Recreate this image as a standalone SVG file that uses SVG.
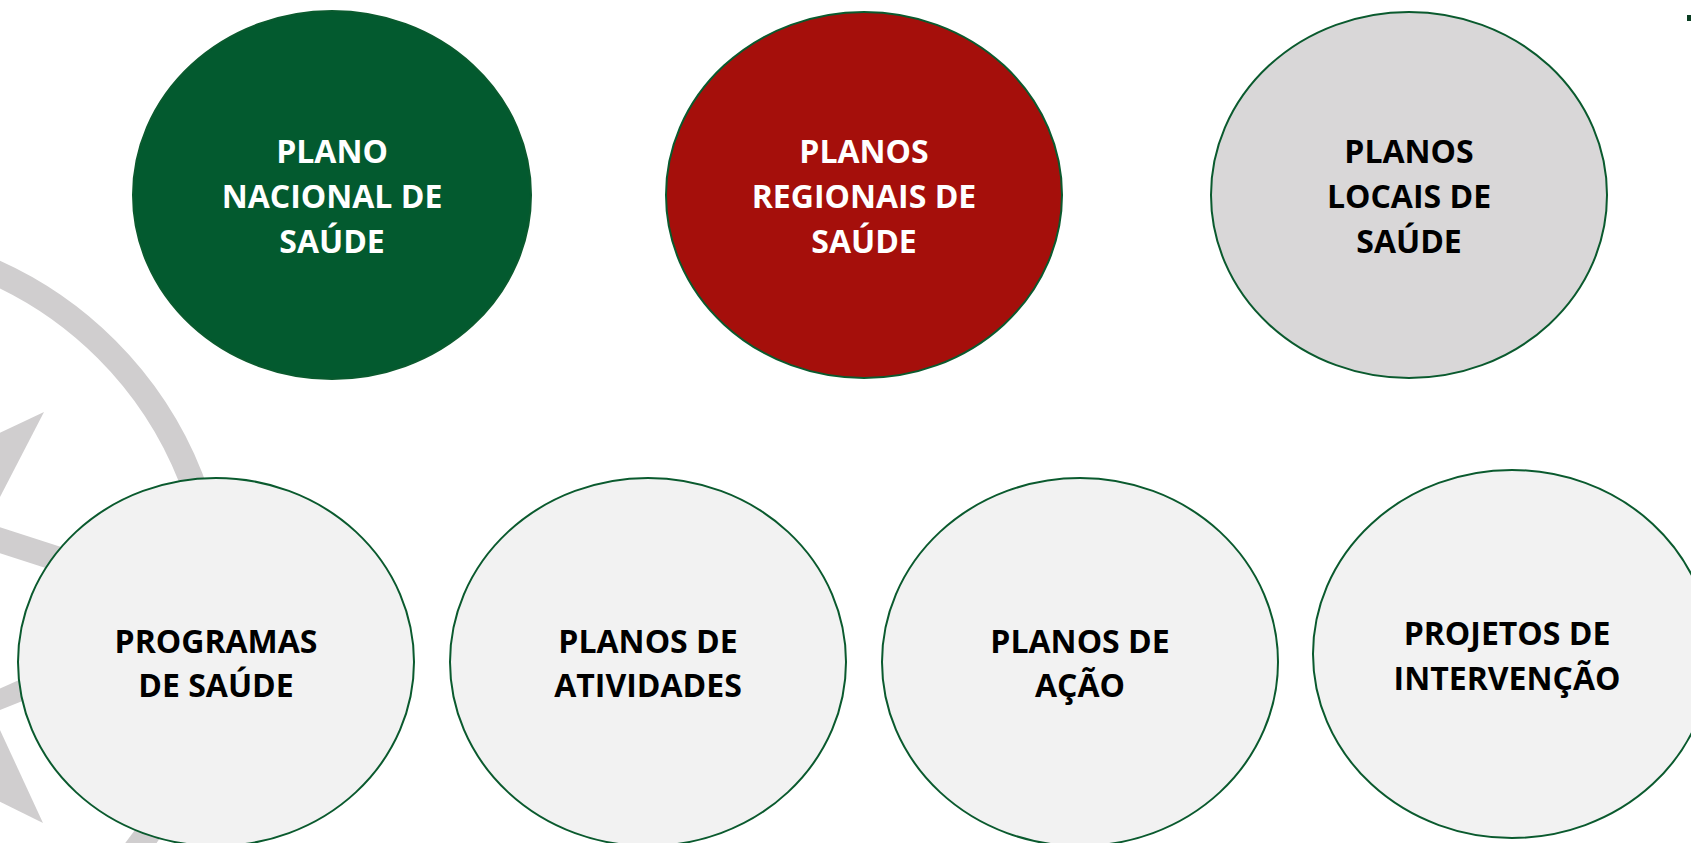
<svg xmlns="http://www.w3.org/2000/svg" width="1691" height="843" viewBox="0 0 1691 843">
<style>
.node{stroke:#0a5a2e;stroke-width:2}
.lbl{font-family:"Open Sans","Liberation Sans",sans-serif;font-weight:bold;font-size:32px;text-anchor:middle}
.w{fill:#ffffff}
.k{fill:#000000}
.deco{fill:#d0cecf}
</style>
<rect width="1691" height="843" fill="#ffffff"/>
<g id="background">
<circle cx="-160" cy="616" r="377" fill="none" stroke="#d0cecf" stroke-width="25"/>
<polygon class="deco" points="44,412 -30,447 -30,555"/>
<polygon class="deco" points="43,823 -30,665 -30,787"/>
<polygon class="deco" points="-10,524 120,566 120,592 -10,550"/>
<polygon class="deco" points="-10,693 120,635 120,662 -10,714"/>
<rect x="1687" y="15" width="4" height="6" fill="#0a3d22"/>
</g>
<g id="connectors"></g>
<g id="n1">
<ellipse class="node" cx="332" cy="195" rx="199" ry="184" fill="#035a2f" stroke="#035a2f"/>
<text class="lbl w" x="332" y="163">PLANO</text>
<text class="lbl w" x="332" y="208">NACIONAL DE</text>
<text class="lbl w" x="332" y="253">SAÚDE</text>
</g>
<g id="n2">
<ellipse class="node" cx="864" cy="195" rx="198" ry="183" fill="#a50f0b"/>
<text class="lbl w" x="864" y="163">PLANOS</text>
<text class="lbl w" x="864" y="208">REGIONAIS DE</text>
<text class="lbl w" x="864" y="253">SAÚDE</text>
</g>
<g id="n3">
<ellipse class="node" cx="1409" cy="195" rx="198" ry="183" fill="#d9d7d8"/>
<text class="lbl k" x="1409" y="163">PLANOS</text>
<text class="lbl k" x="1409" y="208">LOCAIS DE</text>
<text class="lbl k" x="1409" y="253">SAÚDE</text>
</g>
<g id="n4">
<ellipse class="node" cx="216" cy="662" rx="198" ry="184" fill="#f2f2f2"/>
<text class="lbl k" x="216" y="653">PROGRAMAS</text>
<text class="lbl k" x="216" y="697">DE SAÚDE</text>
</g>
<g id="n5">
<ellipse class="node" cx="648" cy="662" rx="198" ry="184" fill="#f2f2f2"/>
<text class="lbl k" x="648" y="653">PLANOS DE</text>
<text class="lbl k" x="648" y="697">ATIVIDADES</text>
</g>
<g id="n6">
<ellipse class="node" cx="1080" cy="662" rx="198" ry="184" fill="#f2f2f2"/>
<text class="lbl k" x="1080" y="653">PLANOS DE</text>
<text class="lbl k" x="1080" y="697">AÇÃO</text>
</g>
<g id="n7">
<ellipse class="node" cx="1512" cy="654" rx="199" ry="184" fill="#f2f2f2"/>
<text class="lbl k" x="1507" y="645">PROJETOS DE</text>
<text class="lbl k" x="1507" y="690">INTERVENÇÃO</text>
</g>
</svg>
